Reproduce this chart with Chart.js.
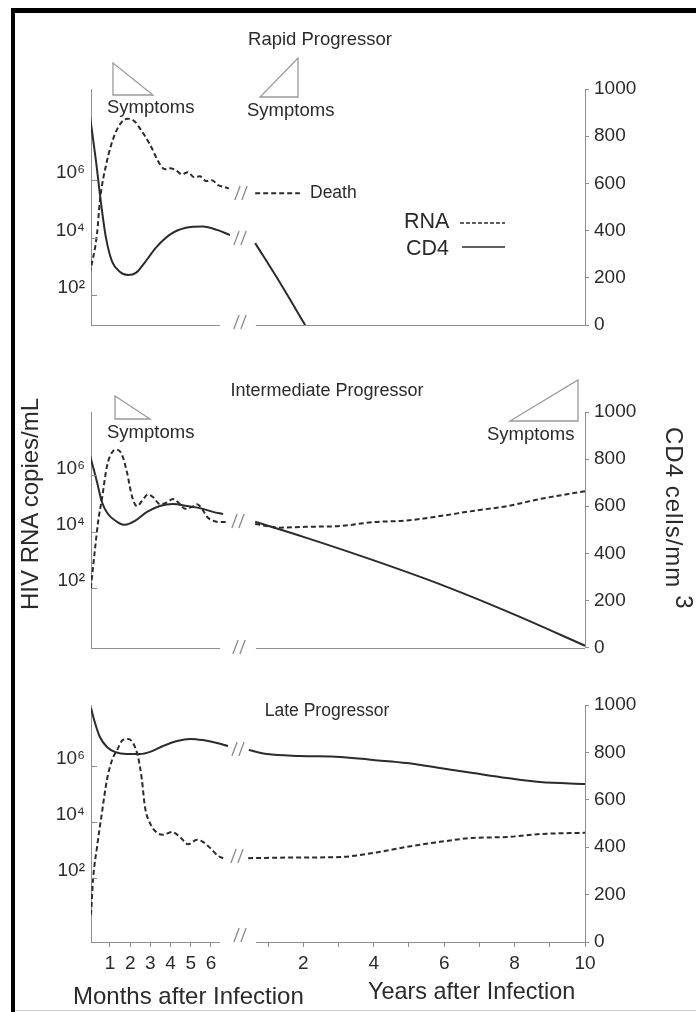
<!DOCTYPE html>
<html>
<head>
<meta charset="utf-8">
<script src="https://cdn.jsdelivr.net/npm/chart.js"></script>
<style>
html,body{margin:0;padding:0;background:#fff;}
body{width:696px;height:1012px;position:relative;overflow:hidden;font-family:"Liberation Sans",Arial,sans-serif;color:#2a2a2a;}
canvas{position:absolute;left:0;}
.t{position:absolute;white-space:nowrap;line-height:1;}
.c{transform:translateX(-50%);}
.frame{position:absolute;background:#000;}
</style>
</head>
<body>
<canvas id="c1" width="696" height="360" style="top:0px;width:696px;height:360px"></canvas>
<canvas id="c2" width="696" height="305" style="top:360px;width:696px;height:305px"></canvas>
<canvas id="c3" width="696" height="347" style="top:665px;width:696px;height:347px"></canvas>

<div class="t c" style="left:320px;top:30px;font-size:18.5px">Rapid Progressor</div>
<div class="t" style="left:107px;top:98px;font-size:18.5px">Symptoms</div>
<div class="t" style="left:247px;top:101px;font-size:18.5px">Symptoms</div>
<div class="t" style="left:310px;top:184px;font-size:17.5px">Death</div>
<div class="t" style="left:404px;top:211px;font-size:21.5px">RNA</div>
<div class="t" style="left:406px;top:238px;font-size:21.5px">CD4</div>

<div class="t c" style="left:327px;top:381px;font-size:18px">Intermediate Progressor</div>
<div class="t" style="left:107px;top:423px;font-size:18.5px">Symptoms</div>
<div class="t" style="left:487px;top:425px;font-size:18.5px">Symptoms</div>

<div class="t c" style="left:327px;top:702px;font-size:17.5px">Late Progressor</div>

<div class="t" style="left:18px;top:610px;font-size:24px;transform-origin:0 0;transform:rotate(-90deg)">HIV RNA copies/mL</div>
<div class="t" style="left:686px;top:427px;font-size:24px;letter-spacing:1px;transform-origin:0 0;transform:rotate(90deg)">CD4 cells/mm<span style="position:relative;top:-0.4em;margin-left:7px">3</span></div>

<div class="t" style="left:73px;top:984px;font-size:24px">Months after Infection</div>
<div class="t" style="left:368px;top:980px;font-size:23.4px">Years after Infection</div>

<div class="frame" style="left:11px;top:8px;width:685px;height:5px"></div>
<div class="frame" style="left:11px;top:8px;width:4px;height:1004px"></div>
<div style="position:absolute;left:15px;top:1010px;width:681px;height:1px;background:#cfcfcf"></div>

<script>
// ---------- axis ticks ----------
const monthTicks = [1, 2, 3, 4, 5, 6];
const yearTicks = [1, 2, 3, 4, 5, 6, 7, 8, 9, 10];
const yearTickLabels = ['', '2', '', '4', '', '6', '', '8', '', '10'];
const rnaTicks = [1e2, 1e4, 1e6];
const rnaTickLabels = ['10²', '10⁴', '10⁶'];
const cd4Ticks = [0, 200, 400, 600, 800, 1000];

// ---------- Rapid progressor ----------
const rapidRnaMonths = [0, 0.36, 0.5, 0.85, 1.24, 1.59, 1.89, 2.24, 2.49, 2.98, 3.48, 3.73, 3.97, 4.27, 4.56, 4.86, 5.16, 5.45, 5.75, 6.05, 6.35, 6.64, 6.89];
const rapidRnaEarly = [575, 1.4e4, 1.9e5, 4.6e6, 3.9e7, 1.07e8, 1.38e8, 1.07e8, 6.2e7, 1.74e7, 3.5e6, 2.4e6, 2.6e6, 2.2e6, 1.6e6, 1.9e6, 1.26e6, 1.38e6, 9.3e5, 1.0e6, 6.8e5, 5.8e5, 5.2e5];
const rapidRnaYears = [0.63, 1.9];
const rapidRnaLate = [3.5e5, 3.5e5];
const rapidCd4Months = [0, 0.3, 0.55, 0.8, 1.1, 1.5, 1.9, 2.3, 2.7, 3.3, 4.1, 5.0, 5.6, 6.3, 6.94];
const rapidCd4Early = [890, 700, 520, 370, 270, 225, 212, 222, 262, 330, 390, 415, 417, 403, 381];
const rapidCd4Years = [0.63, 1.34, 2.05];
const rapidCd4Late = [347, 178, 0];

// ---------- Intermediate progressor ----------
const intRnaMonths = [0.05, 0.26, 0.41, 0.6, 0.85, 1.1, 1.35, 1.59, 1.84, 2.09, 2.34, 2.58, 2.88, 3.13, 3.48, 3.82, 4.12, 4.47, 4.71, 5.06, 5.31, 5.56, 5.8, 6.1, 6.45, 6.8];
const intRnaEarly = [1.0e2, 2.5e3, 2.2e4, 1.45e5, 2.1e6, 6.5e6, 8.1e6, 5.5e6, 1.3e6, 1.8e5, 8.1e4, 1.23e5, 2.1e5, 1.7e5, 9.5e4, 1.1e5, 1.45e5, 9.5e4, 6.5e4, 7.6e4, 9.5e4, 6.5e4, 3.4e4, 2.5e4, 2.2e4, 2.2e4];
const intRnaYears = [0.63, 1.34, 2.05, 3.04, 3.98, 4.94, 5.88, 6.82, 7.78, 8.72, 10];
const intRnaLate = [1.9e4, 1.4e4, 1.5e4, 1.6e4, 2.2e4, 2.5e4, 3.6e4, 5.5e4, 8.1e4, 1.45e5, 2.75e5];
const intCd4Months = [0, 0.36, 0.6, 0.9, 1.35, 1.74, 2.24, 2.83, 3.47, 4.12, 4.81, 5.46, 6.1, 6.6];
const intCd4Early = [819, 702, 618, 567, 534, 521, 538, 576, 601, 609, 601, 592, 576, 567];
const intCd4Years = [0.63, 2, 4, 6, 8, 10];
const intCd4Late = [534, 470, 370, 262, 140, 8];

// ---------- Late progressor ----------
const lateRnaMonths = [0.06, 0.16, 0.36, 0.6, 0.85, 1.1, 1.35, 1.64, 1.89, 2.14, 2.39, 2.58, 2.73, 2.98, 3.33, 3.62, 4.07, 4.47, 4.86, 5.31, 5.6, 5.95, 6.35, 6.69];
const lateRnaEarly = [4.8, 85, 1.3e3, 2.1e4, 3.2e5, 1.6e6, 3.7e6, 8.5e6, 9.1e6, 6.6e6, 2.1e6, 3.2e5, 3.5e4, 9.1e3, 4.1e3, 3.5e3, 4.4e3, 2.9e3, 1.6e3, 2.3e3, 1.95e3, 1.2e3, 620, 480];
const lateRnaYears = [0.43, 1.9, 3.04, 3.98, 4.46, 4.94, 5.88, 6.82, 7.78, 8.72, 10];
const lateRnaLate = [510, 540, 560, 780, 1000, 1290, 1950, 2700, 2900, 3700, 4100];
const lateCd4Months = [0.06, 0.26, 0.5, 0.85, 1.24, 1.84, 2.49, 2.98, 3.63, 4.32, 4.96, 5.6, 6.3, 6.84];
const lateCd4Early = [987, 924, 865, 823, 802, 793, 793, 802, 827, 848, 857, 852, 840, 827];
const lateCd4Years = [0.45, 0.97, 1.9, 3.04, 3.98, 4.94, 5.88, 6.82, 7.78, 8.72, 10];
const lateCd4Late = [810, 793, 785, 781, 768, 755, 734, 713, 692, 675, 667];

// ---------- drawing setup ----------
const FONT = '"Liberation Sans", Arial, sans-serif';
const INK = '#2b2b2b';
const AXIS = '#8e8e8e';
const MONTH_END = 6.45;   // where the month part of the time axis stops
const YEAR_START = 0.65;  // where the year part of the time axis starts

function pts(xs, ys) { return xs.map((x, i) => ({ x: x, y: ys[i] })); }

const decor = {
  id: 'decor',
  afterDraw(chart, args, o) {
    const c = chart.ctx, a = chart.chartArea;
    const xm = chart.scales.xm, xy = chart.scales.xy, yL = chart.scales.yL;
    const off = o.top;
    c.save();
    c.strokeStyle = AXIS; c.lineWidth = 1; c.setLineDash([]);
    const yb = Math.round(a.bottom) + 0.5;
    c.beginPath();
    c.moveTo(a.left, yb); c.lineTo(xm.getPixelForValue(MONTH_END), yb);
    c.moveTo(xy.getPixelForValue(YEAR_START), yb); c.lineTo(a.right, yb);
    c.stroke();
    c.beginPath();
    rnaTicks.forEach(v => { const y = Math.round(yL.getPixelForValue(v)) + 0.5; c.moveTo(a.left, y); c.lineTo(a.left + 6, y); });
    c.stroke();
    c.strokeStyle = '#8a8a8a'; c.lineWidth = 1.3;
    (o.breaks || []).forEach(b => {
      c.beginPath();
      [-3.5, 3.5].forEach(d => { c.moveTo(b[0] + d - 2.6, b[1] - off + 7); c.lineTo(b[0] + d + 2.6, b[1] - off - 7); });
      c.stroke();
    });
    c.strokeStyle = '#9a9a9a'; c.lineWidth = 1.3;
    (o.triangles || []).forEach(t => {
      c.beginPath();
      c.moveTo(t[0][0], t[0][1] - off); c.lineTo(t[1][0], t[1][1] - off); c.lineTo(t[2][0], t[2][1] - off); c.closePath();
      c.stroke();
    });
    (o.legend || []).forEach(l => {
      c.strokeStyle = INK; c.lineWidth = 1.6; c.setLineDash(l.dash);
      c.beginPath(); c.moveTo(l.x0, l.y - off); c.lineTo(l.x1, l.y - off); c.stroke();
    });
    c.restore();
  }
};

function makeChart(id, p) {
  const ds = (data, xID, yID, dashed) => ({
    data: data, xAxisID: xID, yAxisID: yID, borderColor: INK, borderWidth: 2,
    borderDash: dashed ? [5, 3] : [], pointRadius: 0, cubicInterpolationMode: 'monotone', fill: false
  });
  const tickFont = { family: FONT, size: 19 };
  return new Chart(document.getElementById(id), {
    type: 'line',
    data: {
      datasets: [
        ds(pts(p.rnaMX, p.rnaMY), 'xm', 'yL', true),
        ds(pts(p.rnaYX, p.rnaYY), 'xy', 'yL', true),
        ds(pts(p.cd4MX, p.cd4MY), 'xm', 'yR', false),
        ds(pts(p.cd4YX, p.cd4YY), 'xy', 'yR', false)
      ]
    },
    options: {
      responsive: false, animation: false, events: [],
      layout: { padding: { top: p.padTop, bottom: p.padBottom, left: 0, right: 0 } },
      plugins: {
        legend: { display: false }, tooltip: { enabled: false },
        decor: { top: p.canvasTop, breaks: p.breaks, triangles: p.triangles, legend: p.legend }
      },
      scales: {
        xm: {
          type: 'linear', position: 'bottom', min: 0.06, max: 24.52, display: p.showX,
          afterFit: s => { s.height = p.xAxisH; },
          afterBuildTicks: s => { s.ticks = monthTicks.map(v => ({ value: v })); },
          ticks: { autoSkip: false, maxRotation: 0, padding: 5, font: tickFont, color: INK, callback: v => String(v) },
          grid: { display: true, drawOnChartArea: false, tickLength: 5, color: AXIS },
          border: { display: false }
        },
        xy: {
          type: 'linear', position: { yR: 0 }, min: -4.034, max: 10, display: p.showX,
          afterBuildTicks: s => { s.ticks = yearTicks.map(v => ({ value: v })); },
          ticks: { autoSkip: false, maxRotation: 0, padding: 5, font: tickFont, color: INK,
                   callback: v => yearTickLabels[yearTicks.indexOf(Math.round(v))] || '' },
          grid: { display: true, drawOnChartArea: false, tickLength: 5, color: AXIS },
          border: { display: false }
        },
        yL: {
          type: 'logarithmic', position: 'left', min: p.logMin, max: p.logMax,
          afterFit: s => { s.width = 91; },
          afterBuildTicks: s => { s.ticks = rnaTicks.map(v => ({ value: v })); },
          ticks: { padding: 6, labelOffset: -7, font: { family: FONT, size: 19 }, color: INK,
                   callback: v => rnaTickLabels[rnaTicks.indexOf(Math.round(v))] || '' },
          grid: { display: false, drawTicks: false },
          border: { display: true, color: AXIS, width: 1 }
        },
        yR: {
          type: 'linear', position: 'right', min: 0, max: 1000,
          afterFit: s => { s.width = 111; },
          afterBuildTicks: s => { s.ticks = cd4Ticks.map(v => ({ value: v })); },
          ticks: { padding: 5, font: tickFont, color: INK, callback: v => String(v) },
          grid: { display: true, drawOnChartArea: false, tickLength: 4, color: AXIS },
          border: { display: true, color: AXIS, width: 1 }
        }
      }
    },
    plugins: [decor]
  });
}

makeChart('c1', {
  canvasTop: 0, padTop: 89, padBottom: 35, showX: false, xAxisH: 0,
  logMin: 9.25, logMax: 1.48e9,
  rnaMX: rapidRnaMonths, rnaMY: rapidRnaEarly, rnaYX: rapidRnaYears, rnaYY: rapidRnaLate,
  cd4MX: rapidCd4Months, cd4MY: rapidCd4Early, cd4YX: rapidCd4Years, cd4YY: rapidCd4Late,
  breaks: [[240, 322], [241, 193], [240, 238]],
  triangles: [[[113, 63], [113, 95], [153, 95]], [[298, 58], [298, 97], [260, 97]]],
  legend: [{ x0: 460, x1: 505, y: 223, dash: [4, 2] }, { x0: 462, x1: 505, y: 247, dash: [] }]
});
makeChart('c2', {
  canvasTop: 360, padTop: 52, padBottom: 15, showX: false, xAxisH: 0,
  logMin: 0.785, logMax: 1.76e8,
  rnaMX: intRnaMonths, rnaMY: intRnaEarly, rnaYX: intRnaYears, rnaYY: intRnaLate,
  cd4MX: intCd4Months, cd4MY: intCd4Early, cd4YX: intCd4Years, cd4YY: intCd4Late,
  breaks: [[239, 647], [238, 521]],
  triangles: [[[115, 396], [115, 419], [150, 419]], [[578, 380], [578, 421], [510, 421]]],
  legend: []
});
makeChart('c3', {
  canvasTop: 665, padTop: 40, padBottom: 0, showX: true, xAxisH: 70,
  logMin: 0.518, logMax: 1.5e8,
  rnaMX: lateRnaMonths, rnaMY: lateRnaEarly, rnaYX: lateRnaYears, rnaYY: lateRnaLate,
  cd4MX: lateCd4Months, cd4MY: lateCd4Early, cd4YX: lateCd4Years, cd4YY: lateCd4Late,
  breaks: [[240, 935], [238, 749], [237, 856]],
  triangles: [],
  legend: []
});
</script>
</body>
</html>
